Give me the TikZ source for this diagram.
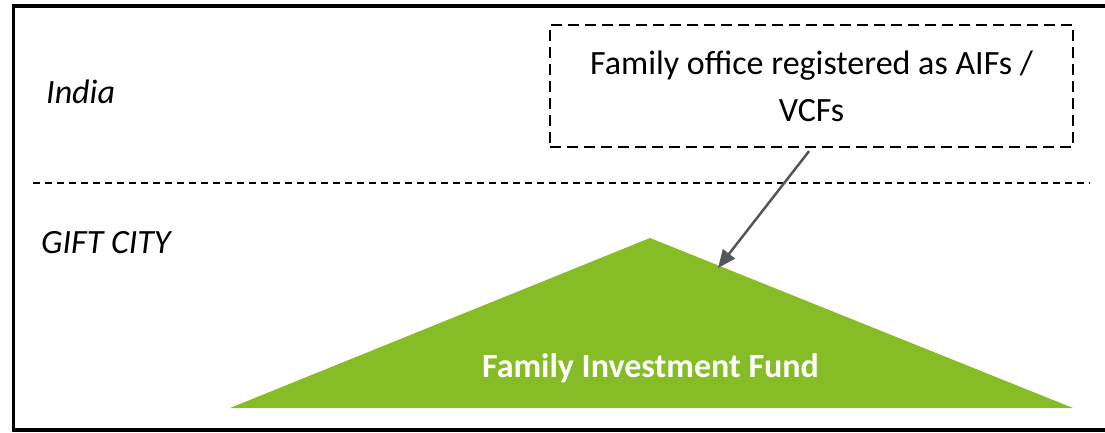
\documentclass[tikz,border=0pt]{standalone}
\usepackage{fontspec}
\setmainfont{Carlito}
\usetikzlibrary{arrows.meta,positioning}
\definecolor{fundgreen}{HTML}{86BC25}
\definecolor{arrowgrey}{HTML}{53565A}

\begin{document}
\begin{tikzpicture}[x=1pt,y=-1pt,
    region/.style={anchor=base west, inner sep=0pt, font=\fontsize{34}{40}\selectfont\itshape},
    officebox/.style={rectangle, draw, line width=2pt, dash pattern=on 11pt off 6pt,
      minimum width=523pt, minimum height=122pt, align=center, font=\fontsize{34}{47}\selectfont}]
    \useasboundingbox (0,0) rectangle (1105,432);
    \draw[line width=3.5pt] (1110,6) -- (13.5,6) -- (13.5,430) -- (1110,430);

    \node[region] (india) at (46,103) {India};
    \node[region] (gift) at (41,253) {GIFT CITY};
    \draw[line width=1.5pt, dash pattern=on 7pt off 5pt] (33,183) -- (1090,183);

    \node[officebox] (office) at (811.5,86) {Family office registered as AIFs /\\VCFs};

    \fill[fundgreen] (650,238) coordinate (apex) -- (1073,408) coordinate (baseright)
      -- (230,408) coordinate (baseleft) -- cycle;
    \node[anchor=base, inner sep=0pt, text=white, font=\fontsize{34}{40}\selectfont\bfseries] (fund) at (650.5,377) {Family Investment Fund};
    \coordinate (hit) at (718,268);

    \draw[arrowgrey, line width=2.5pt, shorten <=4pt, -{Triangle[length=18pt,width=15pt]}] (office.south) -- (hit);
\end{tikzpicture}
\end{document}
